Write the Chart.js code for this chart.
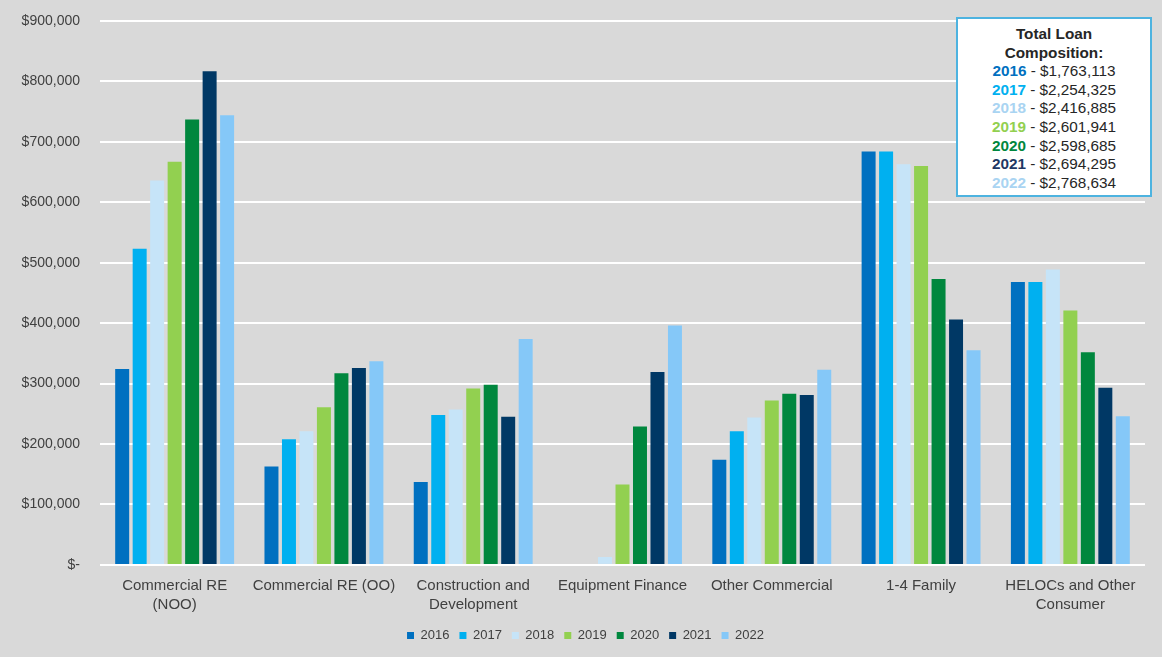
<!DOCTYPE html>
<html>
<head>
<meta charset="utf-8">
<script src="https://cdn.jsdelivr.net/npm/chart.js@4/dist/chart.umd.min.js"></script>
<style>
  html, body { margin: 0; padding: 0; background: #D9D9D9; }
  #wrap { position: relative; width: 1162px; height: 657px; background: #D9D9D9; }
  #c { position: absolute; left: 0; top: 0; }
  #box {
    position: absolute; left: 956px; top: 17px; width: 192px; height: 170px;
    background: #FFFFFF; border: 2px solid #4DB3E0;
    font-family: "Liberation Sans", Arial, sans-serif; font-size: 15.3px; color: #262626;
    text-align: center; line-height: 18.6px; padding-top: 6px; box-sizing: content-box;
  }
  #box .t { font-weight: bold; }
  #box b { font-weight: bold; }
</style>
</head>
<body>
<div id="wrap">
  <canvas id="c" width="1162" height="657"></canvas>
  <div id="box"></div>
</div>
<script>
const categories = [
  ["Commercial RE", "(NOO)"],
  "Commercial RE (OO)",
  ["Construction and", "Development"],
  "Equipment Finance",
  "Other Commercial",
  "1-4 Family",
  ["HELOCs and Other", "Consumer"]
];
const years = ["2016", "2017", "2018", "2019", "2020", "2021", "2022"];
const colors = ["#0070C0", "#00B0F0", "#C6E4F8", "#92D050", "#00873E", "#003865", "#85C8F8"];
const boxColors = ["#0070C0", "#00B0F0", "#A9D4F2", "#92D050", "#00873E", "#1F3864", "#A9D4F2"];

const v2016 = [324000, 163000, 137000, 0, 174000, 684000, 468000];
const v2017 = [523000, 208000, 248000, 0, 221000, 684000, 468000];
const v2018 = [636000, 221000, 257000, 13000, 244000, 663000, 489000];
const v2019 = [667000, 261000, 292000, 133000, 272000, 660000, 421000];
const v2020 = [737000, 317000, 298000, 229000, 283000, 473000, 352000];
const v2021 = [817000, 326000, 245000, 319000, 281000, 406000, 293000];
const v2022 = [744000, 337000, 374000, 396000, 323000, 355000, 246000];
const seriesValues = [v2016, v2017, v2018, v2019, v2020, v2021, v2022];

const totals = ["$1,763,113", "$2,254,325", "$2,416,885", "$2,601,941", "$2,598,685", "$2,694,295", "$2,768,634"];
const yTicks = [0, 100000, 200000, 300000, 400000, 500000, 600000, 700000, 800000, 900000];

// Summary box
const box = document.getElementById('box');
let html = '<div class="t">Total Loan</div><div class="t">Composition:</div>';
years.forEach((y, i) => {
  html += '<div><b style="color:' + boxColors[i] + '">' + y + '</b> - ' + totals[i] + '</div>';
});
box.innerHTML = html;

const FONT = '"Liberation Sans", Arial, sans-serif';
const TXT = '#404040';

const shiftLegend = {
  id: 'shiftLegend',
  afterLayout(chart) {
    if (chart.legend) {
      chart.legend.left += 13; chart.legend.right += 13;
      chart.legend.top += 2; chart.legend.bottom += 2;
    }
  }
};

new Chart(document.getElementById('c'), {
  type: 'bar',
  data: {
    labels: categories,
    datasets: years.map((y, i) => ({
      label: y,
      data: seriesValues[i],
      backgroundColor: colors[i],
      borderWidth: 0,
      categoryPercentage: 0.82,
      barPercentage: 0.8
    }))
  },
  plugins: [shiftLegend],
  options: {
    responsive: false,
    animation: false,
    devicePixelRatio: 1,
    layout: { padding: { left: 0, right: 17, top: 21, bottom: 7 } },
    plugins: {
      legend: {
        position: 'bottom',
        labels: {
          boxWidth: 7, boxHeight: 7, padding: 10,
          color: TXT, font: { family: FONT, size: 13 }
        }
      },
      tooltip: { enabled: false }
    },
    scales: {
      x: {
        grid: { display: false },
        border: { display: false },
        ticks: { color: TXT, font: { family: FONT, size: 15, lineHeight: 1.27 }, maxRotation: 0, autoSkip: false, padding: 3 }
      },
      y: {
        min: 0, max: 900000,
        afterFit: (s) => { s.width = 100; s.paddingTop = 0; s.paddingBottom = 0; },
        afterBuildTicks: (s) => { s.ticks = yTicks.map(v => ({ value: v })); },
        grid: { color: '#FFFFFF', lineWidth: 2, drawTicks: false },
        border: { display: false },
        ticks: {
          color: TXT, font: { family: FONT, size: 14 }, padding: 20,
          callback: (v) => v === 0 ? '$-' : '$' + v.toLocaleString('en-US')
        }
      }
    }
  }
});
</script>
</body>
</html>
